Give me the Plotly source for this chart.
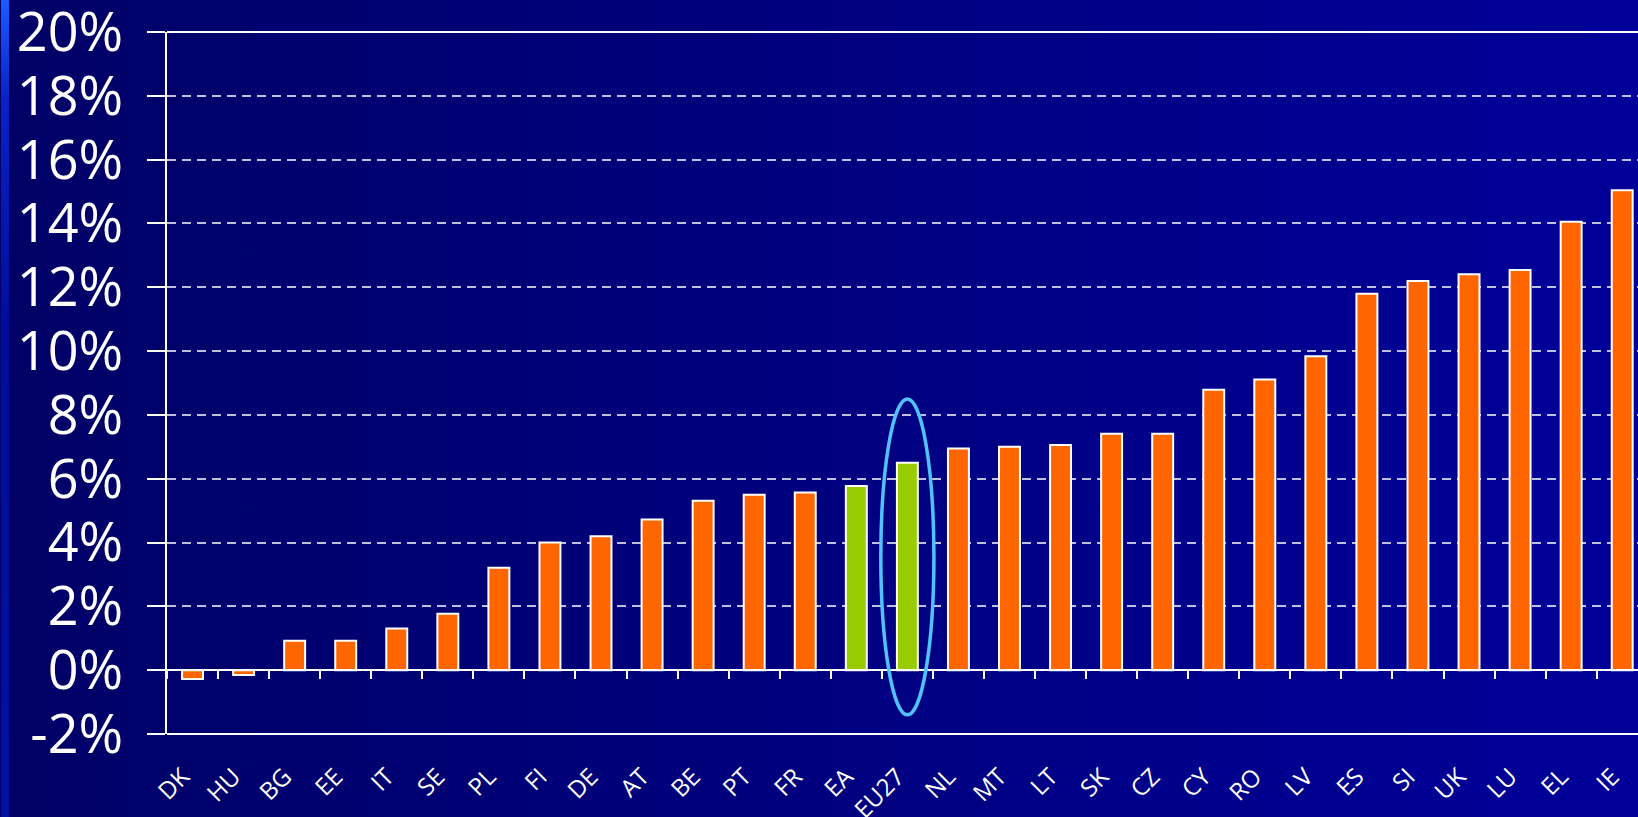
import base64
import plotly.graph_objects as go

countries = ["DK", "HU", "BG", "EE", "IT", "SE", "PL", "FI", "DE", "AT", "BE", "PT", "FR",
             "EA", "EU27", "NL", "MT", "LT", "SK", "CZ", "CY", "RO", "LV", "ES", "SI", "UK",
             "LU", "EL", "IE"]
values = [-0.28, -0.15, 0.92, 0.92, 1.31, 1.77, 3.21, 4.0, 4.2, 4.72, 5.31, 5.5, 5.57,
          5.77, 6.5, 6.95, 7.0, 7.06, 7.41, 7.41, 8.79, 9.11, 9.84, 11.8, 12.2, 12.41,
          12.54, 14.05, 15.04]
aggregates = ["EA", "EU27"]
highlight = "EU27"
y_ticks = list(range(-2, 21, 2))
y_tick_text = [f"{v}%" for v in y_ticks]

ORANGE = "#FF6600"
GREEN = "#99CC00"
colors = [GREEN if c in aggregates else ORANGE for c in countries]

W, H = 1638, 817
ML, MR, MT, MB = 167, 0, 32, 83
PW, PH = W - ML - MR, H - MT - MB
cat_px = 51.06
x_max = -0.5 + PW / cat_px

svg = f'''<svg xmlns="http://www.w3.org/2000/svg" width="{W}" height="{H}" viewBox="0 0 {W} {H}" preserveAspectRatio="none">
<defs>
<linearGradient id="g" x1="0" y1="0" x2="1" y2="0">
<stop offset="0" stop-color="#000066"/>
<stop offset="0.4" stop-color="#00007a"/>
<stop offset="1" stop-color="#000099"/>
</linearGradient>
<linearGradient id="s" x1="0" y1="0" x2="0" y2="1">
<stop offset="0" stop-color="#1a5cff"/>
<stop offset="0.12" stop-color="#0a22c4"/>
<stop offset="0.4" stop-color="#000c9c"/>
<stop offset="1" stop-color="#0010a0"/>
</linearGradient>
</defs>
<rect x="0" y="0" width="{W}" height="{H}" fill="url(#g)"/>
<rect x="1" y="0" width="8" height="{H}" fill="url(#s)"/>
</svg>'''
src = "data:image/svg+xml;base64," + base64.b64encode(svg.encode()).decode()

fig = go.Figure()
fig.add_trace(go.Bar(
    x=countries, y=values,
    marker=dict(color=colors, line=dict(color="white", width=2)),
    width=0.41, hoverinfo="x+y", showlegend=False,
))

hi = countries.index(highlight)
hv = values[hi]
fig.add_shape(type="circle", xref="x", yref="y",
              x0=hi - 0.52, x1=hi + 0.52, y0=-1.4, y1=hv + 2.0,
              line=dict(color="#4fc3ff", width=3.5), layer="above")
# solid frame lines top and bottom
for yp in (0, 1):
    fig.add_shape(type="line", xref="paper", yref="paper", x0=0, x1=1, y0=yp, y1=yp,
                  line=dict(color="white", width=2), layer="above")

fig.update_layout(
    width=W, height=H,
    margin=dict(l=ML, r=MR, t=MT, b=MB, pad=0, autoexpand=False),
    paper_bgcolor="#000070",
    plot_bgcolor="rgba(0,0,0,0)",
    images=[dict(source=src, xref="paper", yref="paper",
                 x=-ML / PW, y=1 + MT / PH, sizex=W / PW, sizey=H / PH,
                 xanchor="left", yanchor="top", sizing="stretch", layer="below")],
    xaxis=dict(
        type="category", categoryorder="array", categoryarray=countries,
        range=[-0.5, x_max], anchor="free", position=2 / 22, automargin=False,
        showline=True, linecolor="white", linewidth=2,
        ticks="outside", tickson="boundaries", ticklen=8, tickwidth=2, tickcolor="white",
        tickangle=-45, ticklabelstandoff=82, ticklabelshift=-10,
        tickfont=dict(family="Open Sans", size=24, color="white"),
        showgrid=False, zeroline=False,
    ),
    yaxis=dict(
        range=[-2, 20], tickvals=y_ticks, ticktext=y_tick_text, automargin=False,
        showline=True, linecolor="white", linewidth=2,
        ticks="outside", ticklen=18, tickwidth=2, tickcolor="white",
        ticklabelstandoff=13, ticklabeloverflow="allow",
        tickfont=dict(family="Open Sans", size=54, color="white"),
        showgrid=True, gridcolor="rgba(255,255,255,0.75)", gridwidth=1.5,
        griddash="9px,6px",
        zeroline=True, zerolinecolor="white", zerolinewidth=2,
    ),
)

fig.write_html("out.html", config={"displayModeBar": False},
               post_script="document.body.style.margin='0';document.body.style.background='#000066';")
